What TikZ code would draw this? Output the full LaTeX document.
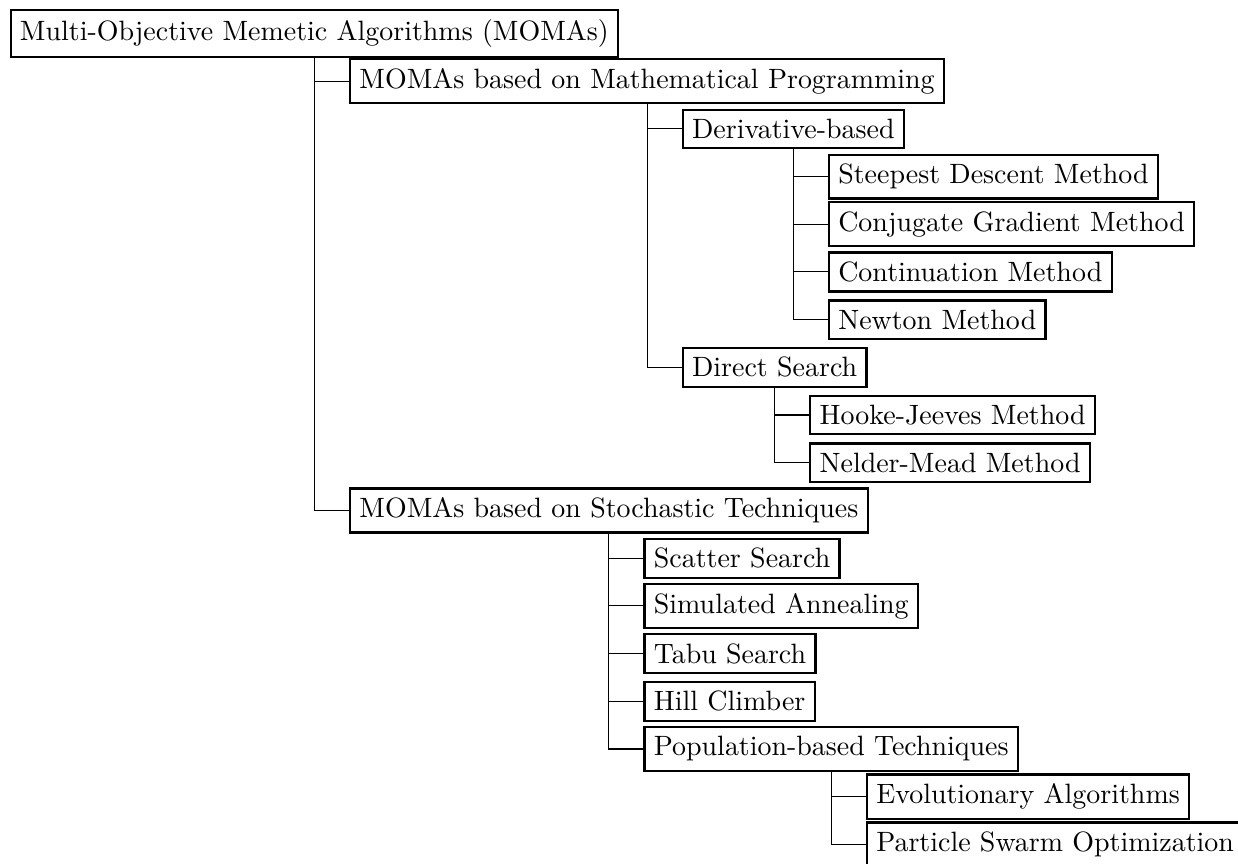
\documentclass[tikz,border=0pt]{standalone}
\begin{document}
\begin{tikzpicture}[box/.style = {draw, thick, anchor = west}, link/.style = {draw, thin}]
      \useasboundingbox (-0.12, 0.42) rectangle (15.45, -10.44);
      % root and first level
      \node[box] (root) at (0, 0) {Multi-Objective Memetic Algorithms (MOMAs)};
      \node[box, xshift = 0.435cm] (math) at (root.center |- 0,-0.6) {MOMAs based on Mathematical Programming};
      \node[box, xshift = 0.435cm] (deriv) at (math.center |- 0,-1.2) {Derivative-based};
      \node[box, xshift = 0.435cm] (steep) at (deriv.center |- 0,-1.8) {Steepest Descent Method};
      \node[box, xshift = 0.435cm] (conj) at (deriv.center |- 0,-2.4) {Conjugate Gradient Method};
      \node[box, xshift = 0.435cm] (cont) at (deriv.center |- 0,-3.0) {Continuation Method};
      \node[box, xshift = 0.435cm] (newton) at (deriv.center |- 0,-3.6) {Newton Method};
      \node[box, xshift = 0.435cm] (direct) at (math.center |- 0,-4.2) {Direct Search};
      \node[box, xshift = 0.435cm] (hooke) at (direct.center |- 0,-4.8) {Hooke-Jeeves Method};
      \node[box, xshift = 0.435cm] (nelder) at (direct.center |- 0,-5.4) {Nelder-Mead Method};
      % stochastic branch
      \node[box, xshift = 0.435cm] (stoch) at (root.center |- 0,-6.0) {MOMAs based on Stochastic Techniques};
      \node[box, xshift = 0.435cm] (scatter) at (stoch.center |- 0,-6.6) {Scatter Search};
      \node[box, xshift = 0.435cm] (anneal) at (stoch.center |- 0,-7.2) {Simulated Annealing};
      \node[box, xshift = 0.435cm] (tabu) at (stoch.center |- 0,-7.8) {Tabu Search};
      \node[box, xshift = 0.435cm] (hill) at (stoch.center |- 0,-8.4) {Hill Climber};
      \node[box, xshift = 0.435cm] (popul) at (stoch.center |- 0,-9.0) {Population-based Techniques};
      \node[box, xshift = 0.435cm] (evol) at (popul.center |- 0,-9.6) {Evolutionary Algorithms};
      \node[box, xshift = 0.435cm] (pso) at (popul.center |- 0,-10.2) {Particle Swarm Optimization};
      % connectors
      \path[link] (root.south) |- (math.west);
      \path[link] (root.south) |- (stoch.west);
      \path[link] (math.south) |- (deriv.west);
      \path[link] (math.south) |- (direct.west);
      \path[link] (deriv.south) |- (steep.west);
      \path[link] (deriv.south) |- (conj.west);
      \path[link] (deriv.south) |- (cont.west);
      \path[link] (deriv.south) |- (newton.west);
      \path[link] (direct.south) |- (hooke.west);
      \path[link] (direct.south) |- (nelder.west);
      \path[link] (stoch.south) |- (scatter.west);
      \path[link] (stoch.south) |- (anneal.west);
      \path[link] (stoch.south) |- (tabu.west);
      \path[link] (stoch.south) |- (hill.west);
      \path[link] (stoch.south) |- (popul.west);
      \path[link] (popul.south) |- (evol.west);
      \path[link] (popul.south) |- (pso.west);
    \end{tikzpicture}
\end{document}
